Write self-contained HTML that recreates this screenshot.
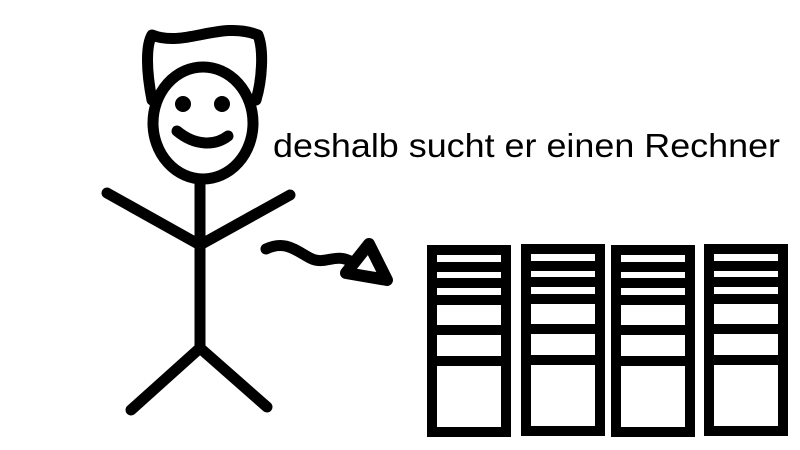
<!DOCTYPE html>
<html><head><style>body{margin:0;background:#fff}svg{display:block}</style></head><body>
<svg width="800" height="450" viewBox="0 0 800 450" xmlns="http://www.w3.org/2000/svg">
<g fill="none" stroke="#000" stroke-width="11" stroke-linecap="round" stroke-linejoin="round">
<path d="M152,100 C146,70 146,45 152,35 C185,48 220,20 258,35 C264,50 262,80 256,100"/>
<ellipse cx="203" cy="123" rx="50" ry="56" fill="#fff"/>
<path d="M177,131 C195,146 215,146 228,136"/>
<path d="M200,180 L200,348 M107,193 L200,245 L290,195 M200,348 L131,410 M200,348 L267,407"/>
<path d="M266,249 C285,240 295,250 310,258 C325,266 335,252 352,262"/>
<path d="M369,244 L346,273 L387,280 Z" stroke-width="12"/>
</g>
<g fill="#000">
<circle cx="183" cy="104" r="8"/><circle cx="222" cy="104" r="8"/>
</g>
<g id="rack">
<rect x="427" y="245" width="84" height="192" fill="#000"/>
<g fill="#fff">
<rect x="437" y="255" width="64" height="7"/>
<rect x="437" y="272" width="64" height="6"/>
<rect x="437" y="288" width="64" height="7"/>
<rect x="437" y="305" width="64" height="20"/>
<rect x="437" y="335" width="64" height="21"/>
<rect x="437" y="366" width="64" height="61"/>
</g>
</g>
<use href="#rack" x="94" y="-1"/>
<use href="#rack" x="184" y="0"/>
<use href="#rack" x="277" y="-1"/>
<text x="273" y="157" font-family="Liberation Sans, sans-serif" font-size="33" textLength="507" lengthAdjust="spacingAndGlyphs" fill="#000">deshalb sucht er einen Rechner</text>
</svg>
</body></html>
